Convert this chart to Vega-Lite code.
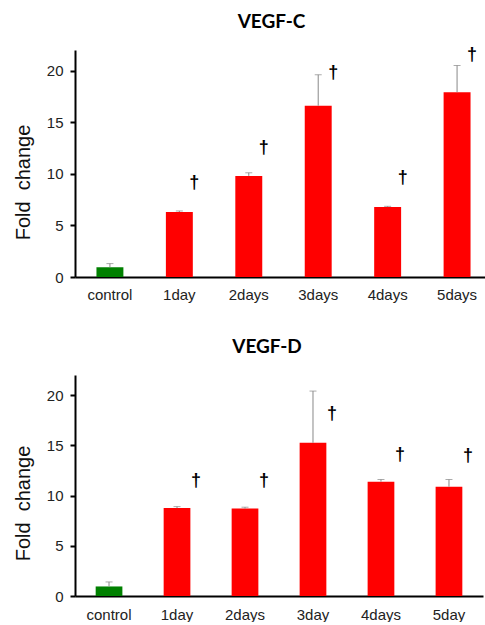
{
  "$schema": "https://vega.github.io/schema/vega-lite/v6.json",
  "padding": {"left": 13, "top": 13, "right": 0, "bottom": 0},
  "spacing": 36,
  "background": "white",
  "config": {
    "view": {"stroke": null},
    "font": "Liberation Sans",
    "axis": {
      "domainColor": "#000",
      "domainWidth": 2,
      "grid": false,
      "labelFont": "Liberation Sans",
      "labelFontSize": 15,
      "labelColor": "#222",
      "titleFont": "Liberation Sans",
      "titleFontWeight": "normal",
      "titleFontSize": 20,
      "titleColor": "#111"
    },
    "title": {"font": "Lato", "fontWeight": "bold", "fontSize": 19, "color": "#000"}
  },
  "datasets": {
    "c": [
      {"group": "control", "value": 0.95, "upper": 1.3, "sig_y": null},
      {"group": "1day", "value": 6.3, "upper": 6.4, "sig_y": 9.15},
      {"group": "2days", "value": 9.8, "upper": 10.1, "sig_y": 12.55},
      {"group": "3days", "value": 16.6, "upper": 19.6, "sig_y": 19.8},
      {"group": "4days", "value": 6.78, "upper": 6.85, "sig_y": 9.6},
      {"group": "5days", "value": 17.9, "upper": 20.5, "sig_y": 21.5}
    ],
    "d": [
      {"group": "control", "value": 0.95, "upper": 1.4, "sig_y": null},
      {"group": "1day", "value": 8.75, "upper": 8.9, "sig_y": 11.4},
      {"group": "2days", "value": 8.7, "upper": 8.84, "sig_y": 11.4},
      {"group": "3day", "value": 15.25, "upper": 20.4, "sig_y": 18.1},
      {"group": "4days", "value": 11.38, "upper": 11.6, "sig_y": 14.0},
      {"group": "5day", "value": 10.88, "upper": 11.6, "sig_y": 13.9}
    ]
  },
  "vconcat": [
    {
      "width": 417,
      "height": 227,
      "title": {"text": "VEGF-C", "dx": -12, "offset": 14},
      "data": {"name": "c"},
      "encoding": {
        "x": {
          "field": "group", "type": "nominal", "sort": null,
          "scale": {"paddingInner": 0.612, "paddingOuter": 0.309},
          "axis": {"title": null, "labelAngle": 0, "ticks": false, "labelPadding": 10}
        }
      },
      "layer": [
        {
          "mark": {"type": "bar"},
          "encoding": {
            "y": {
              "field": "value", "type": "quantitative", "title": "Fold\u00a0 change",
              "scale": {"domain": [0, 22]},
              "axis": {"values": [0, 5, 10, 15, 20], "tickSize": 5, "tickWidth": 2, "tickColor": "#000", "labelPadding": 7, "titlePadding": 13, "titleY": 132}
            },
            "color": {"condition": {"test": "datum.group === 'control'", "value": "#008000"}, "value": "#ff0000"}
          }
        },
        {
          "mark": {"type": "rule", "color": "#888", "strokeWidth": 1},
          "encoding": {
            "y": {"field": "value", "type": "quantitative", "title": "Fold\u00a0 change"},
            "y2": {"field": "upper"}
          }
        },
        {
          "mark": {"type": "tick", "color": "#888", "thickness": 1, "size": 7},
          "encoding": {
            "y": {"field": "upper", "type": "quantitative", "title": "Fold\u00a0 change"}
          }
        },
        {
          "transform": [{"filter": "datum.sig_y != null"}],
          "mark": {"type": "text", "text": "†", "fontSize": 18, "fontWeight": "bold", "dx": 15, "align": "center", "baseline": "middle", "color": "#000"},
          "encoding": {
            "y": {"field": "sig_y", "type": "quantitative", "title": "Fold\u00a0 change"}
          }
        }
      ]
    },
    {
      "width": 408,
      "height": 221,
      "title": {"text": "VEGF-D", "dx": -12, "offset": 18},
      "data": {"name": "d"},
      "encoding": {
        "x": {
          "field": "group", "type": "nominal", "sort": null,
          "scale": {"paddingInner": 0.607, "paddingOuter": 0.304},
          "axis": {"title": null, "labelAngle": 0, "ticks": false, "labelPadding": 11}
        }
      },
      "layer": [
        {
          "mark": {"type": "bar"},
          "encoding": {
            "y": {
              "field": "value", "type": "quantitative", "title": "Fold\u00a0 change",
              "scale": {"domain": [0, 22]},
              "axis": {"values": [0, 5, 10, 15, 20], "tickSize": 5, "tickWidth": 2, "tickColor": "#000", "labelPadding": 7, "titlePadding": 13, "titleY": 128}
            },
            "color": {"condition": {"test": "datum.group === 'control'", "value": "#008000"}, "value": "#ff0000"}
          }
        },
        {
          "mark": {"type": "rule", "color": "#888", "strokeWidth": 1},
          "encoding": {
            "y": {"field": "value", "type": "quantitative", "title": "Fold\u00a0 change"},
            "y2": {"field": "upper"}
          }
        },
        {
          "mark": {"type": "tick", "color": "#888", "thickness": 1, "size": 7},
          "encoding": {
            "y": {"field": "upper", "type": "quantitative", "title": "Fold\u00a0 change"}
          }
        },
        {
          "transform": [{"filter": "datum.sig_y != null"}],
          "mark": {"type": "text", "text": "†", "fontSize": 18, "fontWeight": "bold", "dx": 19, "align": "center", "baseline": "middle", "color": "#000"},
          "encoding": {
            "y": {"field": "sig_y", "type": "quantitative", "title": "Fold\u00a0 change"}
          }
        }
      ]
    }
  ]
}
